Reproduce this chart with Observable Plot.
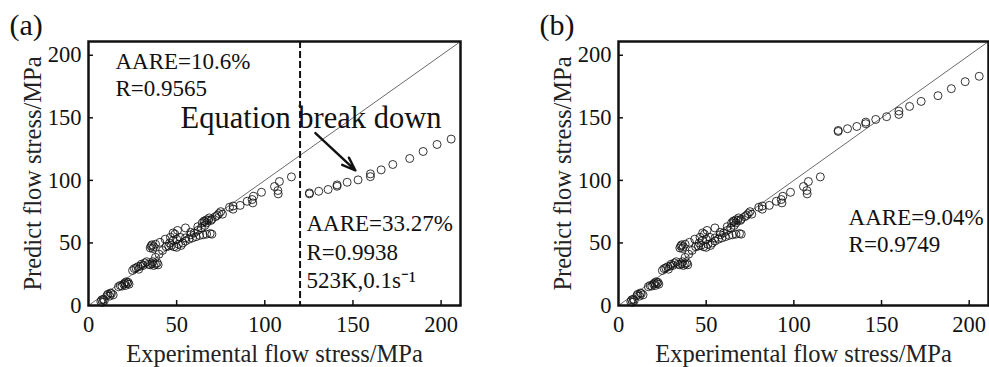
<!DOCTYPE html>
<html><head><meta charset="utf-8">
<script src="https://cdn.jsdelivr.net/npm/d3@7"></script>
<script src="https://cdn.jsdelivr.net/npm/@observablehq/plot@0.6"></script>
<style>
body{margin:0;background:#fff;width:989px;height:367px;overflow:hidden;position:relative;font-family:"Liberation Serif",serif}
#a,#b{position:absolute;top:0}
#a{left:0}
#b{left:490px}
svg{overflow:visible}
</style></head><body><div id="a"></div><div id="b"></div>
<script>
// shared points (experimental, predicted) below the break
const lowX=[7,7.5,8,8.5,9, 10.5,11,12,13,14,12.5, 17,18,19,20,21,22,22.5,21.5,23,20.5,
 25,26,27,28,28.5,29.5,30,31,32,33, 34,35,36,37,38,39,39.5,36.5, 35,35.5,36,37,36.5,
 38,40,42,44,46,48,50,52, 38,40.5,43.5,46.5,49,50.5,55,48,
 45.5,47,48.5,50,51,52.5,53.5, 55,57,59,61,63,65,67,69,70,
 55,58,60,62,64,66,67,68,70,72,73,74,75,76, 64.5,65.5,67,68.5,69.5, 58,62,66,
 80,82,82,86,90,92.8,93.2,93.7,98.1,105.5,107.4,107.6,108.3,115.1];
const lowY=[3,4.5,2.5,5,4, 8,9,7.5,9.5,8.5,10, 15,16,15.5,17,16,17.5,18.5,19,17,18,
 28,29.5,30,31,29,31.5,33,32,34,35, 33,32.5,33.5,32,33,34,32.5,35, 46,47.5,48.5,47,45.5,
 38.5,41,44,47,50,52,53,54.5, 49,50.5,53,54.5,57,60,62,58,
 47.5,48,47,46.5,49,48,50, 51.5,53,54,55,56,56.5,57,57.5,57,
 54,56.5,58,60,62,64,66,68,69,71,72,73.5,75,73, 66,67.5,68.5,70,68, 58.5,63,67,
 78.5,77,79.5,80,83.3,84.7,82,87.3,90.5,95.1,91.9,89.2,99.1,102.8];
// points above the break
const highX=[125.3,125.3,130.6,135.9,141,141,146.7,152.9,159.9,159.9,166,172.6,182.2,189.8,197.7,205.7];
const highYa=[89.2,90,91.3,92.7,95.3,96.4,98.5,100.4,103,105.2,108.4,112.7,117.5,123.1,128.7,133];
const highYb=[139.1,139.9,141.3,143.1,145.3,146.6,148.7,150.9,152.7,155.4,159.1,163.1,167.7,173.3,178.9,183.2];
const ticks=[0,50,100,150,200];
const domain=[0,211];
const breakX=[120];
const xTitle="Experimental flow stress/MPa";
const yTitle="Predict flow stress/MPa";

const font='"Liberation Serif", "Times New Roman", serif';

function panel({width, marginLeft, marginRight, label, highY, notes, extra=[]}) {
  const pts = lowX.map((x,i)=>({x, y: lowY[i]})).concat(highX.map((x,i)=>({x, y: highY[i]})));
  return Plot.plot({
    width, height: 367, marginLeft, marginRight, marginTop: 41, marginBottom: 62,
    style: {fontFamily: font, fontSize: "22px", color: "#111", background: "transparent"},
    x: {domain, ticks, tickFormat: d=>d},
    y: {domain, ticks, tickFormat: d=>d},
    marks: [
      Plot.link([domain], {x1: d=>d[0], y1: d=>d[0], x2: d=>d[1], y2: d=>d[1], stroke: "#444", strokeWidth: 0.8, clip: true}),
      ...extra,
      Plot.dot(pts, {x: "x", y: "y", r: 4, stroke: "#111", strokeWidth: 0.85, fill: "none"}),
      Plot.axisX({ticks, tickSize: 0, tickPadding: 11, fontSize: 22.5, tickFormat: d=>d, label: null}),
      Plot.axisY({ticks, tickSize: 0, tickPadding: 7, fontSize: 22.5, tickFormat: d=>d, label: null}),
      Plot.tickX(ticks.slice(1), {x: d=>d, insetTop: 259, stroke: "#111", strokeWidth: 1.5}),
      Plot.tickY(ticks.slice(1), {y: d=>d, insetRight: width - marginLeft - marginRight - 5, stroke: "#111", strokeWidth: 1.5}),
      Plot.frame({stroke: "#111", strokeWidth: 2.5}),
      Plot.text([xTitle], {frameAnchor: "bottom", dy: 56, lineAnchor: "bottom", textAnchor: "middle", fontSize: 24.5, fill: "#222", text: d=>d}),
      Plot.text([yTitle], {frameAnchor: "left", dx: -55, rotate: -90, textAnchor: "middle", lineAnchor: "middle", fontSize: 24.5, fill: "#222", text: d=>d}),
      Plot.text([label], {frameAnchor: "top-left", dx: -79, dy: -7, lineAnchor: "bottom", textAnchor: "start", fontSize: 30, fill: "#111", text: d=>d}),
      Plot.text(notes, {x: "x", y: "y", text: "t", fontSize: "fs", textAnchor: "start", lineAnchor: "bottom", fill: "#111"})
    ]
  });
}

const notesA=[
  {x:15.3,y:189.4,t:"AARE=10.6%",fs:23},
  {x:15.3,y:167.3,t:"R=0.9565",fs:23},
  {x:52.2,y:142,t:"Equation break down",fs:30.5},
  {x:123.6,y:59.2,t:"AARE=33.27%",fs:23},
  {x:123.6,y:36.5,t:"R=0.9938",fs:23},
  {x:123.6,y:14.1,t:"523K,0.1s\u207B\u00B9",fs:23}
];
const notesB=[
  {x:131.2,y:64.7,t:"AARE=9.04%",fs:23},
  {x:131.2,y:42.6,t:"R=0.9749",fs:23}
];
const arrowA=[{x1:128.7,y1:137.8,x2:151.4,y2:107.9}];

document.getElementById("a").append(panel({
  width: 490, marginLeft: 88, marginRight: 30, label: "(a)", highY: highYa, notes: notesA,
  extra: [
    Plot.ruleX(breakX, {stroke: "#111", strokeWidth: 2, strokeDasharray: "7,3"}),
    Plot.arrow(arrowA, {x1:"x1", y1:"y1", x2:"x2", y2:"y2", stroke: "#111", strokeWidth: 2.4, headLength: 9, headAngle: 40})
  ]
}));
document.getElementById("b").append(panel({
  width: 499, marginLeft: 128, marginRight: 1, label: "(b)", highY: highYb, notes: notesB
}));
</script></body></html>
